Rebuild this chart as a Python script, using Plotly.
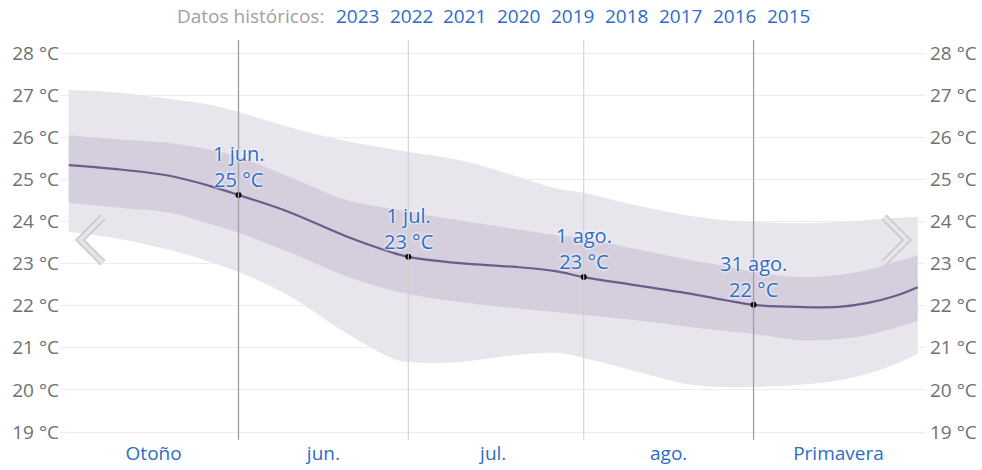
import plotly.graph_objects as go

# ---- data ----
dates = ["2023-05-02", "2023-05-10", "2023-05-20", "2023-05-27", "2023-06-01",
         "2023-06-10", "2023-06-20", "2023-06-28", "2023-07-01", "2023-07-10",
         "2023-07-20", "2023-07-27", "2023-08-01", "2023-08-10", "2023-08-20",
         "2023-08-26", "2023-08-31", "2023-09-08", "2023-09-15", "2023-09-20",
         "2023-09-25", "2023-09-29"]
p90 = [27.12, 27.07, 26.91, 26.77, 26.60, 26.24, 25.91, 25.72, 25.65, 25.46, 25.08,
       24.79, 24.68, 24.39, 24.13, 24.03, 23.99, 23.96, 23.99, 24.03, 24.08, 24.11]
p75 = [26.05, 25.96, 25.86, 25.70, 25.53, 25.06, 24.51, 24.30, 24.22, 24.03, 23.82,
       23.68, 23.61, 23.35, 23.08, 22.94, 22.80, 22.68, 22.73, 22.85, 23.04, 23.20]
mean = [25.34, 25.25, 25.08, 24.84, 24.63, 24.22, 23.65, 23.27, 23.16, 23.01, 22.92,
        22.82, 22.68, 22.49, 22.28, 22.13, 22.02, 21.97, 21.97, 22.06, 22.23, 22.44]
p25 = [24.44, 24.34, 24.20, 23.94, 23.73, 23.27, 22.70, 22.37, 22.28, 22.09, 21.94,
       21.85, 21.78, 21.66, 21.49, 21.40, 21.33, 21.18, 21.21, 21.30, 21.47, 21.64]
p10 = [23.75, 23.61, 23.32, 23.04, 22.80, 22.23, 21.35, 20.76, 20.66, 20.66, 20.83,
       20.88, 20.76, 20.45, 20.12, 20.07, 20.07, 20.12, 20.23, 20.38, 20.61, 20.85]

mark_dates = ["2023-06-01", "2023-07-01", "2023-08-01", "2023-08-31"]
mark_names = ["1 jun.", "1 jul.", "1 ago.", "31 ago."]
season_lines = ["2023-06-01", "2023-08-31"]
month_lines = ["2023-07-01", "2023-08-01"]

x_tick_vals = ["2023-05-17", "2023-06-16", "2023-07-16", "2023-08-16", "2023-09-15"]
x_tick_text = ["Otoño", "jun.", "jul.", "ago.", "Primavera"]
y_tick_vals = [19, 20, 21, 22, 23, 24, 25, 26, 27, 28]
y_tick_text = [f"{v} °C" for v in y_tick_vals]

header_label = "Datos históricos:"
years = ["2023", "2022", "2021", "2020", "2019", "2018", "2017", "2016", "2015"]

# ---- style ----
FONT = "Open Sans"
OUTER = "rgb(232,229,237)"
INNER = "rgb(213,207,221)"
LINE = "rgb(108,92,136)"
BLUE = "rgb(46,108,200)"
GRAY = "rgb(112,112,112)"

W, H = 982, 470
ML, MR, MT, MB = 60, 57, 40, 30
PW, PH = W - ML - MR, H - MT - MB


def px(x):
    return (x - ML) / PW


def py(y):
    return (H - MB - y) / PH


fig = go.Figure()
fig.add_trace(go.Scatter(x=dates, y=p90, mode="lines", line=dict(width=0, shape="spline"),
                         hoverinfo="skip", showlegend=False))
fig.add_trace(go.Scatter(x=dates, y=p10, mode="lines", line=dict(width=0, shape="spline"),
                         fill="tonexty", fillcolor=OUTER, hoverinfo="skip", showlegend=False))
fig.add_trace(go.Scatter(x=dates, y=p75, mode="lines", line=dict(width=0, shape="spline"),
                         hoverinfo="skip", showlegend=False))
fig.add_trace(go.Scatter(x=dates, y=p25, mode="lines", line=dict(width=0, shape="spline"),
                         fill="tonexty", fillcolor=INNER, hoverinfo="skip", showlegend=False))
fig.add_trace(go.Scatter(x=dates, y=mean, mode="lines", line=dict(width=2.2, color=LINE, shape="spline"),
                         showlegend=False))

mark_vals = [mean[dates.index(d)] for d in mark_dates]

shapes = []
for d in season_lines:
    shapes.append(dict(type="line", xref="x", yref="paper", x0=d, x1=d, y0=0, y1=1,
                       line=dict(color="rgb(160,160,160)", width=1.3), layer="above"))
for d in month_lines:
    shapes.append(dict(type="line", xref="x", yref="paper", x0=d, x1=d, y0=0, y1=1,
                       line=dict(color="rgb(205,205,205)", width=1), layer="above"))

# navigation chevrons
for pts in ([(103, 217), (80, 240), (103, 263)], [(884, 217), (907, 240), (884, 263)]):
    path = "M {} {} L {} {} L {} {}".format(px(pts[0][0]), py(pts[0][1]), px(pts[1][0]), py(pts[1][1]),
                                            px(pts[2][0]), py(pts[2][1]))
    shapes.append(dict(type="path", xref="paper", yref="paper", path=path,
                       line=dict(color="rgb(198,198,198)", width=7), layer="above"))
    shapes.append(dict(type="path", xref="paper", yref="paper", path=path,
                       line=dict(color="rgb(230,230,230)", width=4), layer="above"))

annotations = []
for d, name, v in zip(mark_dates, mark_names, mark_vals):
    annotations.append(dict(x=d, y=v, xref="x", yref="y", text=f"{name}<br>{round(v)} °C",
                            showarrow=False, yanchor="bottom", xanchor="center", yshift=0,
                            font=dict(family=FONT, size=20, color=BLUE,
                                      shadow="0px 0px 3px white, 0px 0px 3px white")))

annotations.append(dict(x=px(326), y=py(16), xref="paper", yref="paper", text=header_label,
                        showarrow=False, xanchor="right", yanchor="middle",
                        font=dict(family=FONT, size=19, color="rgb(160,160,160)")))
year_centers = [357, 411, 464, 518, 572, 626, 680, 734, 788]
for yr, cx in zip(years, year_centers):
    annotations.append(dict(x=px(cx), y=py(16), xref="paper", yref="paper", text=yr,
                            showarrow=False, xanchor="center", yanchor="middle",
                            font=dict(family=FONT, size=19, color=BLUE)))

fig.update_layout(
    width=W, height=H,
    margin=dict(l=ML, r=MR, t=MT, b=MB, autoexpand=False),
    paper_bgcolor="white", plot_bgcolor="white",
    font=dict(family=FONT),
    showlegend=False,
    xaxis=dict(type="date", range=["2023-04-30 11:00", "2023-09-30 07:00"], automargin=False,
               tickvals=x_tick_vals, ticktext=x_tick_text, showgrid=False, zeroline=False,
               showline=False, ticks="", tickfont=dict(family=FONT, size=19, color=BLUE)),
    yaxis=dict(range=[18.81, 28.31], tickvals=y_tick_vals, ticktext=y_tick_text, automargin=False,
               showgrid=True, gridcolor="rgb(236,236,236)", gridwidth=1, zeroline=False,
               ticks="", tickfont=dict(family=FONT, size=19, color=GRAY)),
    yaxis2=dict(matches="y", overlaying="y", side="right", tickvals=y_tick_vals, ticktext=y_tick_text,
                automargin=False, showgrid=False, zeroline=False, ticks="", ticklabelstandoff=4,
                tickfont=dict(family=FONT, size=19, color=GRAY)),
    shapes=shapes,
    annotations=annotations,
    hovermode=False,
)

# marker dots drawn last so they sit on top of label halos and guide lines
fig.add_trace(go.Scatter(x=mark_dates, y=mark_vals, mode="markers", yaxis="y2",
                         marker=dict(size=6, color="black", line=dict(width=0)), showlegend=False))

fig.write_html("out.html", config={"displayModeBar": False, "staticPlot": True},
               post_script="document.body.style.margin='0';")
